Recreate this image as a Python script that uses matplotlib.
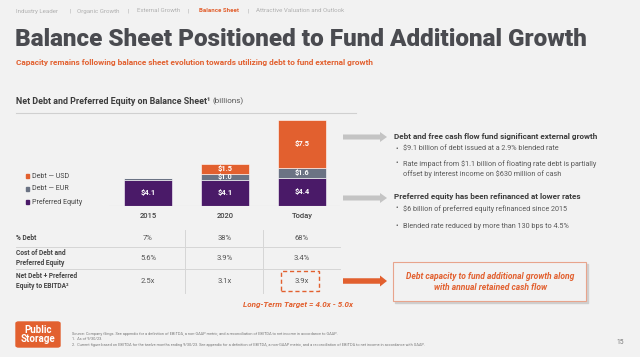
import numpy as np
import matplotlib.pyplot as plt
from matplotlib.patches import FancyBboxPatch, Rectangle, FancyArrow
from matplotlib.lines import Line2D

# данные
periods = ["2015", "2020", "Today"]
pref_equity = [4.1, 4.1, 4.4]
debt_eur = [0.3, 1.0, 1.6]
debt_usd = [0.0, 1.5, 7.5]
pref_labels = ["$4.1", "$4.1", "$4.4"]
eur_labels = ["", "$1.0", "$1.6"]
usd_labels = ["", "$1.5", "$7.5"]

row_names = ["% Debt", "Cost of Debt and\nPreferred Equity", "Net Debt + Preferred\nEquity to EBITDA²"]
pct_debt = ["7%", "38%", "68%"]
cost_debt = ["5.6%", "3.9%", "3.4%"]
leverage = ["2.5x", "3.1x", "3.9x"]

ORANGE = "#e2602f"
GRAY_BAR = "#6b7384"
PURPLE = "#4a1a68"
DARK = "#4a4b50"
TXT = "#5a5a5a"
BG = "#f2f2f2"

plt.rcParams['font.family'] = ['Roboto', 'DejaVu Sans']

W, H = 640, 357
fig = plt.figure(figsize=(6.4, 3.57), dpi=100, facecolor=BG)


def px(x, y):
    return x / W, 1 - y / H


def ftext(x, y, s, **kw):
    fx, fy = px(x, y)
    return fig.text(fx, fy, s, **kw)


# шапка
nav = [("Industry Leader", False), ("|", False), ("Organic Growth", False), ("|", False),
       ("External Growth", False), ("|", False), ("Balance Sheet", True), ("|", False),
       ("Attractive Valuation and Outlook", False)]
nav_x = [16, 70, 77, 127, 137, 188, 199, 247, 256]
for (s, hi), x in zip(nav, nav_x):
    ftext(x, 11, s, fontsize=4.4, color=ORANGE if hi else "#b0b0b0",
          fontweight="bold" if hi else "normal", va="center")

ftext(15, 40, "Balance Sheet Positioned to Fund Additional Growth", fontsize=17.5,
      fontweight="black", color=DARK, va="center")
ftext(16, 63, "Capacity remains following balance sheet evolution towards utilizing debt to fund external growth",
      fontsize=5.95, fontweight="bold", color=ORANGE, va="center")
t_sec = ftext(16, 101, "Net Debt and Preferred Equity on Balance Sheet¹", fontsize=6.4,
              fontweight="bold", color="#3c3c3c", va="center")
fig.canvas.draw()
bb = t_sec.get_window_extent()
ftext(bb.x1 + 2, 101, "(billions)", fontsize=5.8, color="#555555", va="center")

fig.add_artist(Line2D([16 / W, 356 / W], [1 - 113 / H] * 2, color="#d0d0d0", lw=0.8))

# столбцы
ax = fig.add_axes([109 / W, 1 - 206 / H, (340 - 109) / W, 93 / H])
ax.set_facecolor("none")
x = np.arange(len(periods))
w = 0.62
pref = np.array(pref_equity)
eur = np.array(debt_eur)
usd = np.array(debt_usd)
ax.bar(x, pref, w, color=PURPLE, edgecolor="white", linewidth=0.4)
ax.bar(x, eur, w, bottom=pref, color=GRAY_BAR, edgecolor="white", linewidth=0.4)
ax.bar(x, usd, w, bottom=pref + eur, color=ORANGE, edgecolor="white", linewidth=0.4)
for i in range(len(periods)):
    ax.text(x[i], pref[i] / 2, pref_labels[i], ha="center", va="center", color="white",
            fontsize=5.4, fontweight="bold")
    if eur_labels[i]:
        ax.text(x[i], pref[i] + eur[i] / 2, eur_labels[i], ha="center", va="center",
                color="white", fontsize=5.2, fontweight="bold")
    if usd_labels[i]:
        ax.text(x[i], pref[i] + eur[i] + usd[i] / 2, usd_labels[i], ha="center", va="center",
                color="white", fontsize=5.4, fontweight="bold")
ax.set_xlim(-0.506, 2.49)
ax.set_ylim(0, 14.6)
ax.axis("off")
ax.axhline(0, color="#cfcfcf", lw=0.8)
for i, p in enumerate(periods):
    ax.text(x[i], -1.6, p, ha="center", va="center", fontsize=5.5, color="#444444",
            fontweight="medium")

# легенда
leg = [("Debt — USD", ORANGE), ("Debt — EUR", GRAY_BAR), ("Preferred Equity", PURPLE)]
for k, (lab, c) in enumerate(leg):
    yy = 176 + k * 13
    fig.add_artist(Rectangle(px(26, yy + 1.6), 3.4 / W, 3.4 / H, color=c))
    ftext(32, yy, lab, fontsize=5, color="#444444", va="center")

# таблица
for yy in [247, 269]:
    fig.add_artist(Line2D([16 / W, 340 / W], [1 - yy / H] * 2, color="#d6d6d6", lw=0.7))
for xx in [185, 263]:
    fig.add_artist(Line2D([xx / W] * 2, [1 - 230 / H, 1 - 293 / H], color="#d6d6d6", lw=0.7))
col_x = [148, 224.5, 302]
row_y = [238, 258, 281]
for name, yy in zip(row_names, row_y):
    ftext(16, yy, name, fontsize=4.8, fontweight="bold", color="#444444", va="center",
          linespacing=1.3)
for vals, yy in zip([pct_debt, cost_debt, leverage], row_y):
    for v, xx in zip(vals, col_x):
        ftext(xx, yy, v, fontsize=5.5, color="#555555", ha="center", va="center")
box = Rectangle(px(281, 291), 38 / W, 20 / H, fill=False, edgecolor=ORANGE, lw=1.0,
                linestyle=(0, (3, 2)))
fig.add_artist(box)
ftext(353, 305, "Long-Term Target = 4.0x - 5.0x", fontsize=5.8, fontweight="bold",
      style="italic", color=ORANGE, ha="right", va="center")

# стрелки и пояснения
for yy in [137, 198]:
    fx, fy = px(343, yy)
    fig.add_artist(FancyArrow(fx, fy, 37 / W, 0, width=5 / H, head_width=10 / H,
                              head_length=7 / W, length_includes_head=False,
                              color="#c4c4c4", lw=0))
HEAD = dict(fontsize=5.9, fontweight="bold", color="#3c3c3c", va="center")
BUL = dict(fontsize=5.25, color=TXT, va="center")
ftext(394, 137, "Debt and free cash flow fund significant external growth", **HEAD)
ftext(396, 149, "•", **BUL)
ftext(403, 149, "$9.1 billion of debt issued at a 2.9% blended rate", **BUL)
ftext(396, 164, "•", **BUL)
ftext(403, 169, "Rate impact from $1.1 billion of floating rate debt is partially\n"
      "offset by interest income on $630 million of cash", linespacing=1.45, **BUL)
ftext(394, 196, "Preferred equity has been refinanced at lower rates", **HEAD)
ftext(396, 209, "•", **BUL)
ftext(403, 209, "$6 billion of preferred equity refinanced since 2015", **BUL)
ftext(396, 227, "•", **BUL)
ftext(403, 227, "Blended rate reduced by more than 130 bps to 4.5%", **BUL)

fx, fy = px(343, 281)
fig.add_artist(FancyArrow(fx, fy, 37 / W, 0, width=5.5 / H, head_width=11 / H,
                          head_length=7 / W, length_includes_head=False, color=ORANGE, lw=0))
shadow = Rectangle(px(395, 303), 193 / W, 39 / H, color="#cfcfcf")
fig.add_artist(shadow)
cbox = Rectangle(px(393, 301), 193 / W, 39 / H, facecolor=BG, edgecolor="#e8a48c", lw=0.8)
fig.add_artist(cbox)
ftext(490, 282, "Debt capacity to fund additional growth along\nwith annual retained cash flow",
      fontsize=6.15, fontweight="bold", style="italic", color=ORANGE, ha="center", va="center",
      linespacing=1.35)

# подвал
lx, ly = px(16, 347)
fig.add_artist(FancyBboxPatch((lx, ly), 44 / W, 25 / H, boxstyle="round,pad=0,rounding_size=0.004",
                              color=ORANGE))
ftext(38, 334.5, "Public\nStorage", fontsize=7, fontweight="bold", color="white", ha="center",
      va="center", linespacing=0.92)
notes = ["Source: Company filings. See appendix for a definition of EBITDA, a non-GAAP metric, and a reconciliation of EBITDA to net income in accordance to GAAP.",
         "1.  As of 9/30/23.",
         "2.  Current figure based on EBITDA for the twelve months ending 9/30/23. See appendix for a definition of EBITDA, a non-GAAP metric, and a reconciliation of EBITDA to net income in accordance with GAAP."]
for k, s in enumerate(notes):
    ftext(72, 334 + k * 5.3, s, fontsize=2.8, color="#777777", va="center")
ftext(620, 342, "15", fontsize=4.8, color="#777777", ha="center", va="center")

fig.savefig("out.png", dpi=100, facecolor=BG)
